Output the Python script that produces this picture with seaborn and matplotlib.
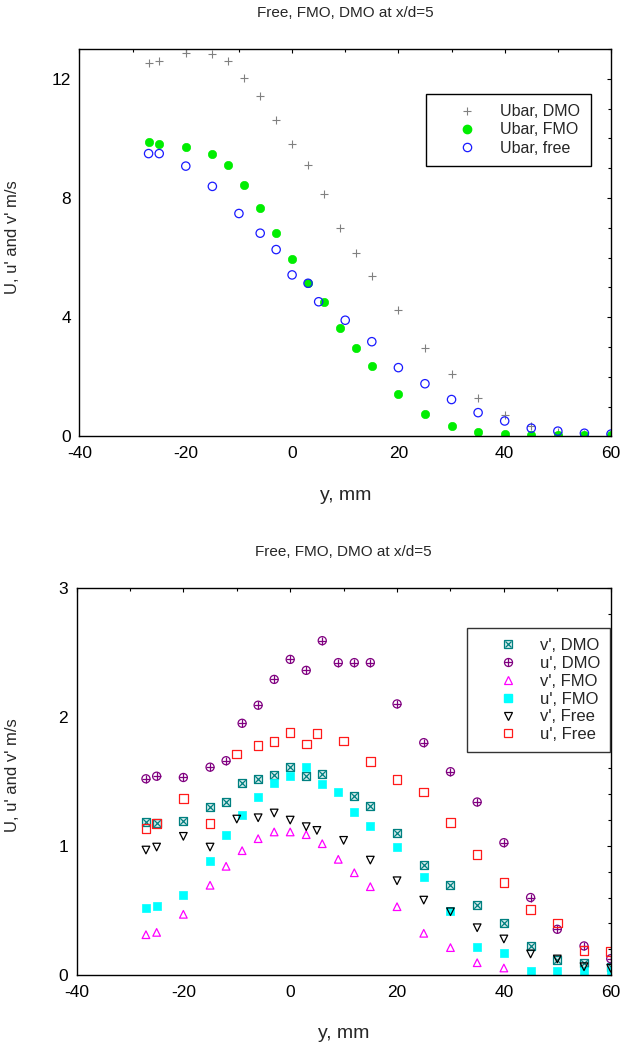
import numpy as np
import matplotlib
matplotlib.use("Agg")
import matplotlib.pyplot as plt
import seaborn as sns
from matplotlib.lines import Line2D
from matplotlib.ticker import MultipleLocator

# ---- top panel: mean velocity ----
y_dmo = [-27, -25, -20, -15, -12, -9, -6, -3, 0, 3, 6, 9, 12, 15, 20, 25, 30, 35, 40, 45, 50, 55, 60]
ubar_dmo = [12.52, 12.61, 12.86, 12.83, 12.61, 12.03, 11.43, 10.63, 9.81, 9.11, 8.15, 7.0,
            6.14, 5.4, 4.24, 2.97, 2.10, 1.30, 0.72, 0.36, 0.15, 0.08, 0.05]
y_fmo = [-27, -25, -20, -15, -12, -9, -6, -3, 0, 3, 6, 9, 12, 15, 20, 25, 30, 35, 40, 45, 50, 55, 60]
ubar_fmo = [9.89, 9.81, 9.72, 9.46, 9.10, 8.44, 7.67, 6.81, 5.96, 5.14, 4.52, 3.63,
            2.98, 2.35, 1.42, 0.75, 0.35, 0.14, 0.07, 0.05, 0.04, 0.04, 0.05]
y_free = [-27, -25, -20, -15, -10, -6, -3, 0, 3, 5, 10, 15, 20, 25, 30, 35, 40, 45, 50, 55, 60]
ubar_free = [9.49, 9.49, 9.07, 8.39, 7.48, 6.82, 6.27, 5.42, 5.14, 4.52, 3.90, 3.18,
             2.31, 1.77, 1.24, 0.80, 0.52, 0.28, 0.18, 0.11, 0.08]

# ---- bottom panel: fluctuations ----
y_up_dmo = [-27, -25, -20, -15, -12, -9, -6, -3, 0, 3, 6, 9, 12, 15, 20, 25, 30, 35, 40, 45, 50, 55, 60]
up_dmo = [1.52, 1.54, 1.53, 1.61, 1.66, 1.95, 2.09, 2.29, 2.445, 2.36, 2.59, 2.42,
          2.42, 2.42, 2.10, 1.80, 1.575, 1.34, 1.025, 0.60, 0.354, 0.225, 0.126]
y_vp_dmo = [-27, -25, -20, -15, -12, -9, -6, -3, 0, 3, 6, 12, 15, 20, 25, 30, 35, 40, 45, 50, 55, 60]
vp_dmo = [1.185, 1.175, 1.19, 1.30, 1.338, 1.49, 1.518, 1.552, 1.61, 1.544, 1.56,
          1.386, 1.307, 1.10, 0.855, 0.70, 0.54, 0.40, 0.227, 0.119, 0.093, 0.06]
y_up_fmo = [-27, -25, -20, -15, -12, -9, -6, -3, 0, 3, 6, 9, 12, 15, 20, 25, 30, 35, 40, 45, 50, 55, 60]
up_fmo = [0.519, 0.537, 0.622, 0.88, 1.087, 1.237, 1.376, 1.49, 1.539, 1.609, 1.48, 1.415,
          1.26, 1.157, 0.99, 0.76, 0.496, 0.22, 0.168, 0.033, 0.03, 0.03, 0.03]
y_vp_fmo = [-27, -25, -20, -15, -12, -9, -6, -3, 0, 3, 6, 9, 12, 15, 20, 25, 30, 35, 40]
vp_fmo = [0.312, 0.33, 0.47, 0.695, 0.842, 0.963, 1.056, 1.108, 1.108, 1.087, 1.017, 0.896,
          0.792, 0.684, 0.529, 0.323, 0.212, 0.095, 0.054]
y_free_b = [-27, -25, -20, -15, -10, -6, -3, 0, 3, 5, 10, 15, 20, 25, 30, 35, 40, 45, 50, 55, 60]
vp_free = [0.968, 0.991, 1.074, 0.991, 1.208, 1.218, 1.255, 1.20, 1.149, 1.12, 1.043, 0.89,
           0.73, 0.58, 0.49, 0.366, 0.279, 0.163, 0.124, 0.064, 0.052]
up_free = [1.136, 1.175, 1.369, 1.175, 1.712, 1.78, 1.81, 1.88, 1.79, 1.872, 1.813, 1.652,
           1.513, 1.418, 1.18, 0.932, 0.718, 0.509, 0.403, 0.188, 0.18]

title = "Free, FMO, DMO at x/d=5"
xlab = "y, mm"
ylab = "U, u' and v' m/s"

sns.set_style("white")
plt.rcParams['font.family'] = ['Liberation Sans', 'DejaVu Sans']
plt.rcParams['axes.unicode_minus'] = False

GRAY = "#808080"
GREEN = "#00ee00"
BLUE = "#1a1aff"
TEAL = "#008080"
PURPLE = "#800080"
MAGENTA = "#ff00ff"
CYAN = "#00ffff"
RED = "#ff1a1a"


def style_axes(ax, ymax, ymajor, yminor, ylab_x):
    ax.set_xlim(-40, 60)
    ax.set_ylim(0, ymax)
    ax.xaxis.set_major_locator(MultipleLocator(20))
    ax.xaxis.set_minor_locator(MultipleLocator(10))
    ax.yaxis.set_major_locator(MultipleLocator(ymajor))
    ax.yaxis.set_minor_locator(MultipleLocator(yminor))
    ax.tick_params(which='both', direction='in', top=True, right=True,
                   colors='black', labelsize=12.5)
    ax.tick_params(which='major', length=3, width=0.8)
    ax.tick_params(which='minor', length=2, width=0.8)
    ax.tick_params(axis='x', pad=7)
    ax.tick_params(axis='y', pad=6)
    for s in ax.spines.values():
        s.set_color('black')
        s.set_linewidth(1.0)
        s.set_visible(True)
    ax.set_xlabel(xlab, fontsize=14)
    ax.set_ylabel(ylab, fontsize=12)
    ax.xaxis.set_label_coords(0.5, -0.13)
    ax.yaxis.set_label_coords(ylab_x, 0.515)
    ax.text(0.5, 1.093, title, transform=ax.transAxes, ha='center', va='center', fontsize=11)


fig = plt.figure(figsize=(6.23, 10.46), dpi=100)
ax1 = fig.add_axes([0.1276, 0.5827, 0.8531, 0.3705])
ax2 = fig.add_axes([0.1228, 0.0679, 0.8575, 0.3702])

# top
sns.scatterplot(x=y_dmo, y=ubar_dmo, ax=ax1, marker='+', color=GRAY, s=34, linewidth=0.8)
sns.scatterplot(x=y_fmo, y=ubar_fmo, ax=ax1, marker='o', color=GREEN, edgecolor=GREEN, s=36)
sns.scatterplot(x=y_free, y=ubar_free, ax=ax1, marker='o', facecolor='none', edgecolor=BLUE,
                s=36, linewidth=0.9)
style_axes(ax1, 13, 4, 1, -0.112)

h_top = [
    Line2D([], [], ls='none', marker='+', color=GRAY, ms=6, mew=0.8),
    Line2D([], [], ls='none', marker='o', color=GREEN, ms=6),
    Line2D([], [], ls='none', marker='o', mfc='none', mec=BLUE, ms=6, mew=0.9),
]
leg1 = ax1.legend(h_top, ["Ubar, DMO", "Ubar, FMO", "Ubar, free"], loc='upper right',
                  bbox_to_anchor=(0.962, 0.884), borderaxespad=0, fontsize=11.5,
                  handlelength=3.85, handletextpad=0.15, labelspacing=0.2, borderpad=0.65,
                  fancybox=False, framealpha=1, edgecolor='black')
leg1.get_frame().set_linewidth(1.0)

# bottom
sns.scatterplot(x=y_vp_dmo, y=vp_dmo, ax=ax2, marker='s', facecolor='#d8ecec', edgecolor=TEAL,
                s=38, linewidth=0.9)
sns.scatterplot(x=y_vp_dmo, y=vp_dmo, ax=ax2, marker='x', color=TEAL, s=22, linewidth=0.9)
sns.scatterplot(x=y_up_dmo, y=up_dmo, ax=ax2, marker='o', facecolor='none', edgecolor=PURPLE,
                s=34, linewidth=0.9)
sns.scatterplot(x=y_up_dmo, y=up_dmo, ax=ax2, marker='+', color=PURPLE, s=34, linewidth=0.9)
sns.scatterplot(x=y_vp_fmo, y=vp_fmo, ax=ax2, marker='^', facecolor='none', edgecolor=MAGENTA,
                s=30, linewidth=0.9)
sns.scatterplot(x=y_up_fmo, y=up_fmo, ax=ax2, marker='s', color=CYAN, edgecolor=CYAN, s=38)
sns.scatterplot(x=y_free_b, y=vp_free, ax=ax2, marker='v', facecolor='none', edgecolor='black',
                s=30, linewidth=0.9)
sns.scatterplot(x=y_free_b, y=up_free, ax=ax2, marker='s', facecolor='none', edgecolor=RED,
                s=38, linewidth=0.9)
style_axes(ax2, 3, 1, 0.2, -0.106)

h_bot = [
    (Line2D([], [], ls='none', marker='s', mfc='#d8ecec', mec=TEAL, ms=6.2, mew=0.9),
     Line2D([], [], ls='none', marker='x', color=TEAL, ms=4.7, mew=0.9)),
    (Line2D([], [], ls='none', marker='o', mfc='none', mec=PURPLE, ms=5.8, mew=0.9),
     Line2D([], [], ls='none', marker='+', color=PURPLE, ms=5.8, mew=0.9)),
    Line2D([], [], ls='none', marker='^', mfc='none', mec=MAGENTA, ms=5.5, mew=0.9),
    Line2D([], [], ls='none', marker='s', color=CYAN, ms=6.2),
    Line2D([], [], ls='none', marker='v', mfc='none', mec='black', ms=5.5, mew=0.9),
    Line2D([], [], ls='none', marker='s', mfc='none', mec=RED, ms=6.2, mew=0.9),
]
leg2 = ax2.legend(h_bot, ["v', DMO", "u', DMO", "v', FMO", "u', FMO", "v', Free", "u', Free"],
                  loc='upper right', bbox_to_anchor=(0.999, 0.896), borderaxespad=0,
                  fontsize=12, handlelength=3.65, handletextpad=0.1, labelspacing=0.17,
                  borderpad=0.6, fancybox=False, framealpha=1, edgecolor='#333333')
leg2.get_frame().set_linewidth(1.0)

fig.savefig("out.png", dpi=100)
